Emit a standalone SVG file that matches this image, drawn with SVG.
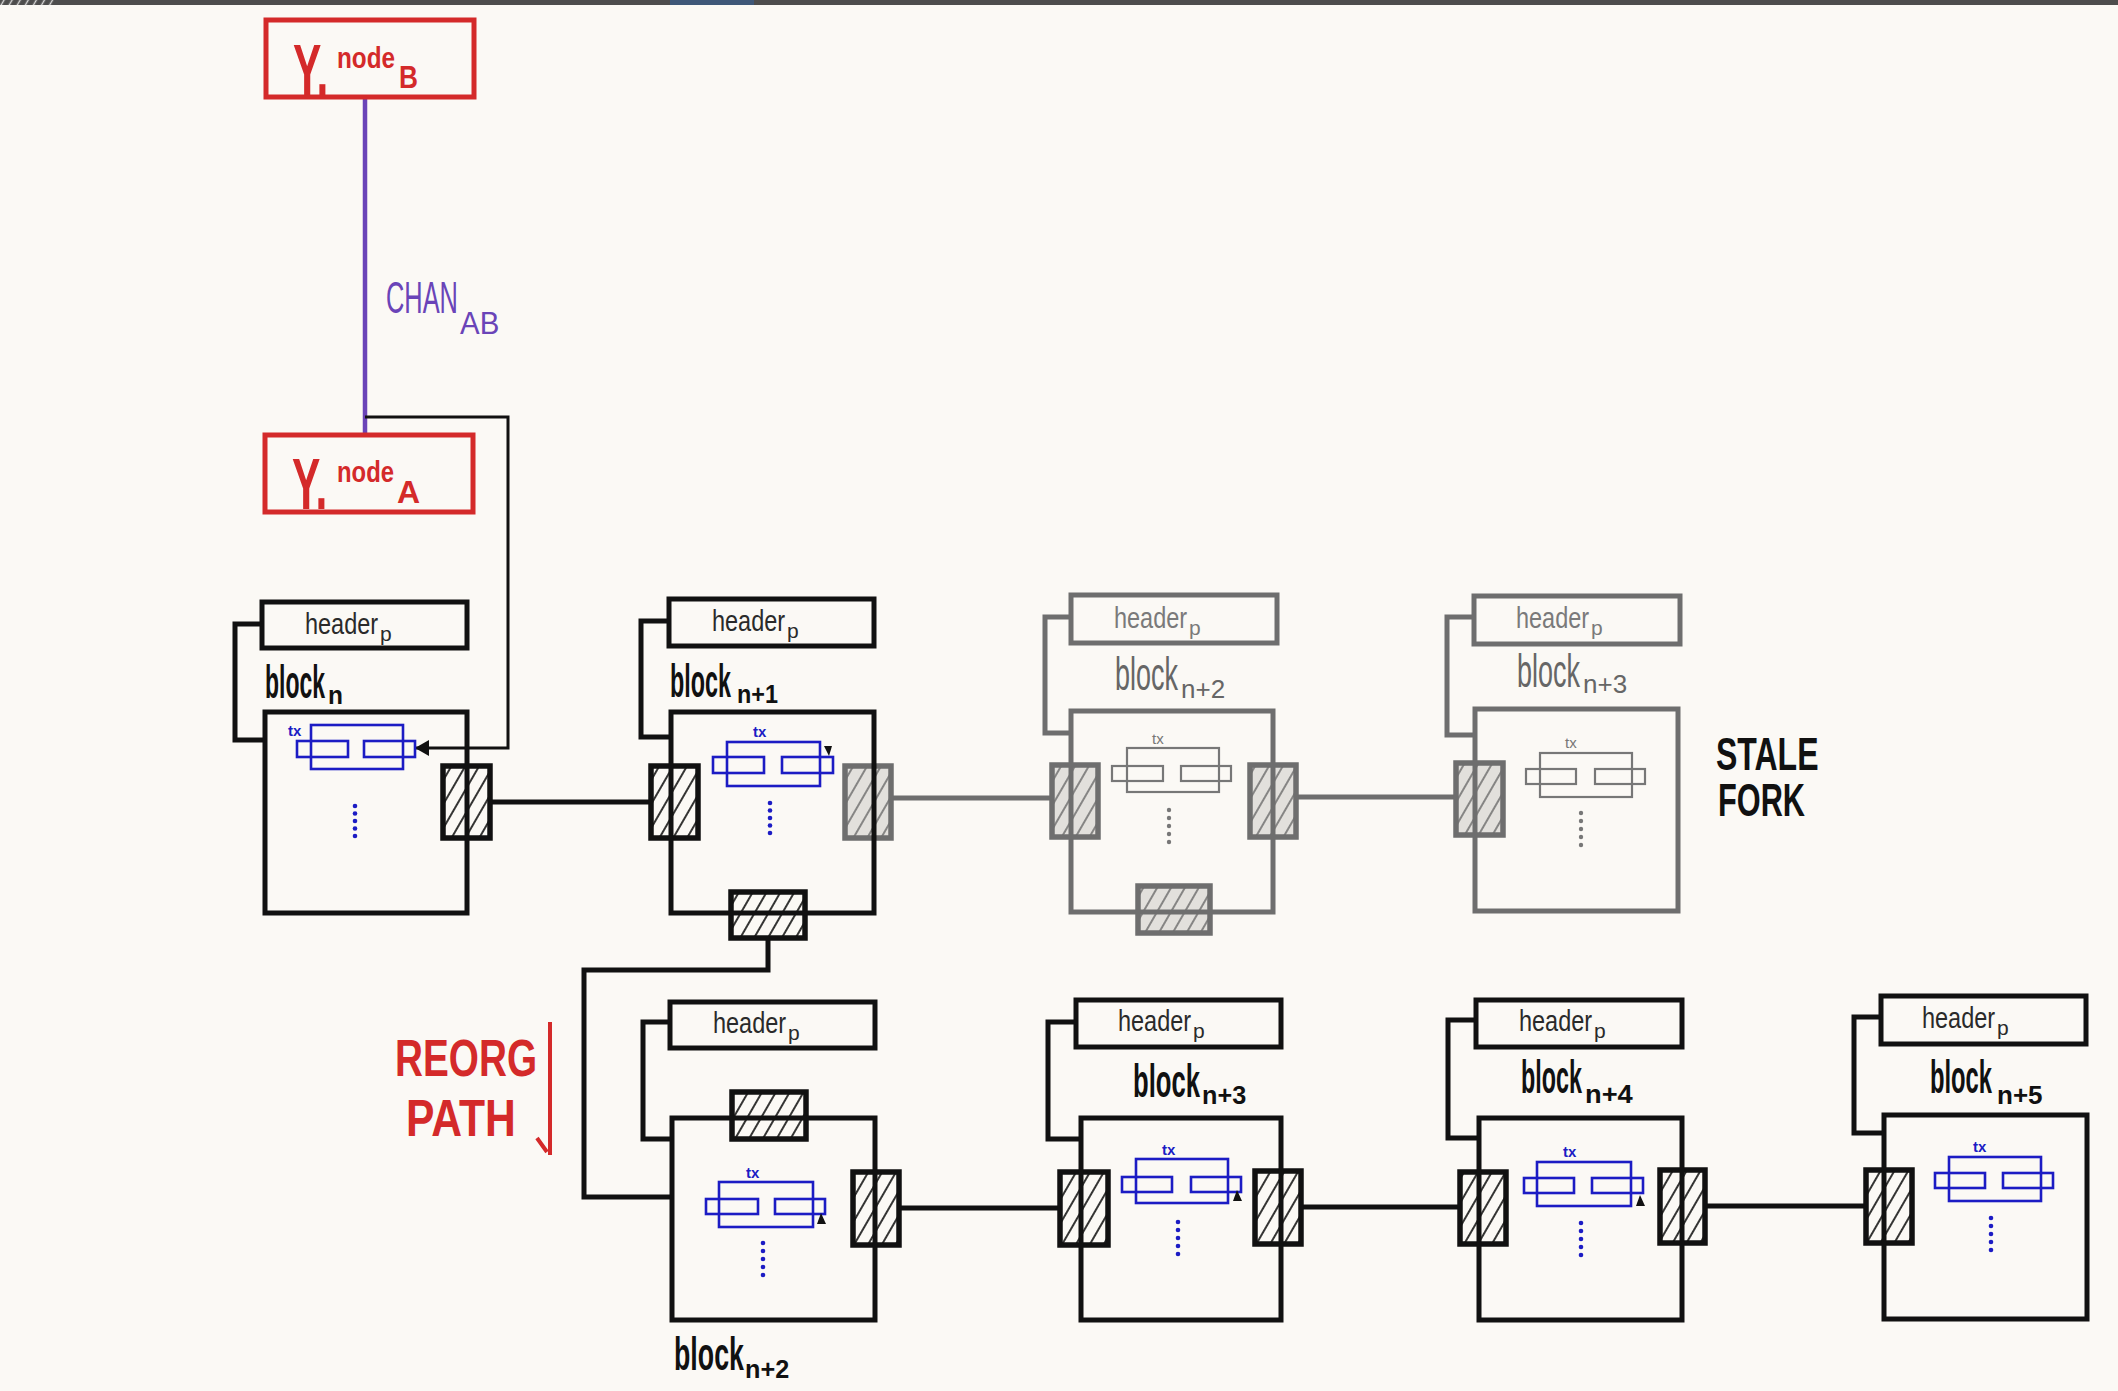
<svg xmlns="http://www.w3.org/2000/svg" width="2118" height="1391" viewBox="0 0 2118 1391">
  <defs>
    <style>
      .box { fill: none; stroke: #111; stroke-width: 5; stroke-linejoin: miter; }
      .grey .box { stroke: #6e6e6e; }
      .link { fill: none; stroke: #111; stroke-width: 5; }
      .grey .link { stroke: #6e6e6e; }
      .hash { fill: url(#hatch-k); stroke: #111; stroke-width: 5.5; }
      .hash-g { fill: url(#hatch-g); stroke: #6e6e6e; stroke-width: 5.5; }
      .tx { fill: none; stroke: #1c1cc4; stroke-width: 2.6; }
      .grey .tx { stroke: #777; stroke-width: 2.2; }
      .txl { font-family: "Liberation Sans", Arial, sans-serif; font-size: 15px; font-weight: bold; fill: #1c1cc4; }
      .grey .txl { fill: #777; font-weight: normal; }
      .dot { fill: #1c1cc4; }
      .grey .dot { fill: #777; }
      .hdr { font-family: "Liberation Sans", Arial, sans-serif; font-size: 29px; fill: #2a2a2a; }
      .hdr-p { font-family: "Liberation Sans", Arial, sans-serif; font-size: 21px; fill: #2a2a2a; }
      .grey .hdr, .grey .hdr-p { fill: #7a7a7a; }
      .lbl { font-family: "Liberation Sans", Arial, sans-serif; font-size: 46px; font-weight: bold; fill: #111; }
      .sub { font-family: "Liberation Sans", Arial, sans-serif; font-size: 26px; font-weight: bold; fill: #111; }
      .grey .lbl, .grey .sub { fill: #666; font-weight: normal; }
      .red { fill: none; stroke: #d42a2a; stroke-width: 5; }
      .redt { font-family: "Liberation Sans", Arial, sans-serif; font-weight: bold; fill: #d42a2a; }
      .chan { font-family: "Liberation Sans", Arial, sans-serif; fill: #6a44b8; }
      .note { font-family: "Liberation Sans", Arial, sans-serif; font-size: 46px; font-weight: bold; fill: #111; }
      .mark { fill: #111; }
    </style>
    <pattern id="hatch-k" width="12" height="12" patternUnits="userSpaceOnUse" patternTransform="rotate(30)">
      <rect width="12" height="12" fill="#fbf9f5"/>
      <line x1="6" y1="0" x2="6" y2="12" stroke="#111" stroke-width="1.7"/>
    </pattern>
    <pattern id="hatch-g" width="12" height="12" patternUnits="userSpaceOnUse" patternTransform="rotate(30)">
      <rect width="12" height="12" fill="#e2e0dc"/>
      <line x1="6" y1="0" x2="6" y2="12" stroke="#6e6e6e" stroke-width="1.6"/>
    </pattern>
    <pattern id="bar-hatch" width="7" height="7" patternUnits="userSpaceOnUse" patternTransform="rotate(30)">
      <rect width="7" height="7" fill="#4d4d4d"/>
      <line x1="3.5" y1="0" x2="3.5" y2="7" stroke="#d8d8d8" stroke-width="1.4"/>
    </pattern>
    <marker id="arrow" markerUnits="userSpaceOnUse" markerWidth="14" markerHeight="16" viewBox="0 0 14 16" refX="14" refY="8" orient="auto">
      <path d="M0,0 L14,8 L0,16 Z" fill="#111"/>
    </marker>
  </defs>

  <!-- canvas -->
  <rect width="2118" height="1391" fill="#fbf9f5"/>
  <rect width="2118" height="5" fill="#4d4d4d"/>
  <rect x="0" y="0" width="54" height="5" fill="url(#bar-hatch)"/>
  <rect x="670" y="0" width="84" height="5" fill="#3f5878"/>

  <!-- connectors -->
  <g id="connectors">
    <path d="M365,97 V435" fill="none" stroke="#6a44b8" stroke-width="4.5"/>
    <path d="M365,417 H508 V748 H415" fill="none" stroke="#111" stroke-width="3" marker-end="url(#arrow)"/>
    <path class="link" d="M490,802 H651"/>
    <path d="M891,798 H1052" fill="none" stroke="#6e6e6e" stroke-width="5"/>
    <path d="M1296,797 H1456" fill="none" stroke="#6e6e6e" stroke-width="5"/>
    <path class="link" d="M768,938 V970 H584 V1197 H672"/>
    <path class="link" d="M899,1208 H1060"/>
    <path class="link" d="M1301,1207 H1460"/>
    <path class="link" d="M1705,1206 H1866"/>
    <text class="chan" font-size="44" transform="translate(386,313) scale(0.577,1)">CHAN</text>
    <text class="chan" font-size="31" transform="translate(460,334) scale(0.95,1)">AB</text>
  </g>

  <!-- payment-channel nodes -->
  <g id="node-b">
    <rect class="red" x="266" y="20" width="208" height="77"/>
    <text class="redt" font-size="72" transform="translate(293,95) scale(0.59,1)">Y.</text>
    <text class="redt" font-size="30" transform="translate(337,68) scale(0.81,1)">node</text>
    <text class="redt" font-size="32" transform="translate(399,88) scale(0.82,1)">B</text>
  </g>
  <g id="node-a">
    <rect class="red" x="265" y="435" width="208" height="77"/>
    <text class="redt" font-size="72" transform="translate(292,509) scale(0.59,1)">Y.</text>
    <text class="redt" font-size="30" transform="translate(337,482) scale(0.795,1)">node</text>
    <text class="redt" font-size="32" transform="translate(397,503)">A</text>
  </g>

  <!-- block n -->
  <g id="block-n">
    <rect class="hash" x="443" y="766" width="47" height="72"/>
    <rect class="box" x="262" y="602" width="205" height="46"/>
    <path class="link" d="M262,624 H235 V740 H265"/>
    <rect class="box" x="265" y="712" width="202" height="201"/>
    <text class="hdr" transform="translate(305,634) scale(0.81,1)">header</text>
    <text class="hdr-p" x="380" y="641">p</text>
    <text class="lbl" transform="translate(265,698) scale(0.5,1)">block</text>
    <text class="sub" transform="translate(328,704) scale(0.94,1)">n</text>
    <text class="txl" x="288" y="736">tx</text>
    <rect class="tx" x="311" y="725" width="92" height="44"/>
    <rect class="tx" x="297" y="741" width="51" height="16"/>
    <rect class="tx" x="364" y="741" width="51" height="16"/>
    <g class="dot"><circle cx="355" cy="806" r="2.3"/><circle cx="355" cy="813.5" r="2.3"/><circle cx="355" cy="821" r="2.3"/><circle cx="355" cy="828.5" r="2.3"/><circle cx="355" cy="836" r="2.3"/></g>
  </g>

  <!-- block n+1 -->
  <g id="block-n1">
    <rect class="hash" x="651" y="766" width="47" height="72"/>
    <rect class="hash-g" x="845" y="766" width="46" height="72"/>
    <rect class="hash" x="731" y="892" width="74" height="46"/>
    <rect class="box" x="669" y="599" width="205" height="47"/>
    <path class="link" d="M669,621 H641 V737 H671"/>
    <rect class="box" x="671" y="712" width="203" height="201"/>
    <text class="hdr" transform="translate(712,631) scale(0.81,1)">header</text>
    <text class="hdr-p" x="787" y="638">p</text>
    <text class="lbl" transform="translate(670,697) scale(0.507,1)">block</text>
    <text class="sub" transform="translate(737,703) scale(0.9,1)">n+1</text>
    <text class="txl" x="753" y="737">tx</text>
    <rect class="tx" x="727" y="742" width="93" height="44"/>
    <rect class="tx" x="713" y="757" width="51" height="16"/>
    <rect class="tx" x="782" y="757" width="51" height="16"/>
    <polygon class="mark" points="824,746 832,746 829,756"/>
    <g class="dot"><circle cx="770" cy="803" r="2.3"/><circle cx="770" cy="810.5" r="2.3"/><circle cx="770" cy="818" r="2.3"/><circle cx="770" cy="825.5" r="2.3"/><circle cx="770" cy="833" r="2.3"/></g>
  </g>

  <!-- block n+2 on the stale fork -->
  <g id="block-n2-stale" class="grey">
    <rect class="hash-g" x="1052" y="765" width="46" height="72"/>
    <rect class="hash-g" x="1250" y="765" width="46" height="72"/>
    <rect class="hash-g" x="1138" y="886" width="72" height="47"/>
    <rect class="box" x="1071" y="595" width="206" height="48"/>
    <path class="link" d="M1071,617 H1045 V733 H1071"/>
    <rect class="box" x="1071" y="711" width="202" height="201"/>
    <text class="hdr" transform="translate(1114,628) scale(0.81,1)">header</text>
    <text class="hdr-p" x="1189" y="635">p</text>
    <text class="lbl" transform="translate(1115,690) scale(0.587,1)">block</text>
    <text class="sub" font-size="30" transform="translate(1181,698)">n+2</text>
    <text class="txl" x="1152" y="744">tx</text>
    <rect class="tx" x="1127" y="748" width="92" height="44"/>
    <rect class="tx" x="1112" y="766" width="51" height="15"/>
    <rect class="tx" x="1181" y="766" width="50" height="15"/>
    <g class="dot"><circle cx="1169" cy="810" r="2.2"/><circle cx="1169" cy="818" r="2.2"/><circle cx="1169" cy="826" r="2.2"/><circle cx="1169" cy="834" r="2.2"/><circle cx="1169" cy="842" r="2.2"/></g>
  </g>

  <!-- block n+3 on the stale fork -->
  <g id="block-n3-stale" class="grey">
    <rect class="hash-g" x="1456" y="763" width="47" height="72"/>
    <rect class="box" x="1474" y="596" width="206" height="48"/>
    <path class="link" d="M1474,617 H1447 V735 H1475"/>
    <rect class="box" x="1475" y="709" width="203" height="202"/>
    <text class="hdr" transform="translate(1516,628) scale(0.81,1)">header</text>
    <text class="hdr-p" x="1591" y="635">p</text>
    <text class="lbl" transform="translate(1517,687) scale(0.587,1)">block</text>
    <text class="sub" font-size="28" transform="translate(1583,693)">n+3</text>
    <text class="txl" x="1565" y="748">tx</text>
    <rect class="tx" x="1540" y="753" width="92" height="44"/>
    <rect class="tx" x="1526" y="769" width="50" height="15"/>
    <rect class="tx" x="1595" y="769" width="50" height="15"/>
    <g class="dot"><circle cx="1581" cy="813" r="2.2"/><circle cx="1581" cy="821" r="2.2"/><circle cx="1581" cy="829" r="2.2"/><circle cx="1581" cy="837" r="2.2"/><circle cx="1581" cy="845" r="2.2"/></g>
  </g>

  <g id="label-stale-fork">
    <text class="note" transform="translate(1716,770) scale(0.696,1)">STALE</text>
    <text class="note" transform="translate(1718,816) scale(0.668,1)">FORK</text>
  </g>

  <g id="label-reorg-path">
    <text class="redt" font-size="52" transform="translate(395,1076) scale(0.745,1)">REORG</text>
    <text class="redt" font-size="52" transform="translate(406,1136) scale(0.82,1)">PATH</text>
    <path d="M550,1022 V1155 M537,1138 L547,1152" fill="none" stroke="#d42a2a" stroke-width="4"/>
  </g>

  <!-- block n+2 on the new chain -->
  <g id="block-n2">
    <rect class="hash" x="732" y="1092" width="74" height="47"/>
    <rect class="hash" x="853" y="1172" width="46" height="73"/>
    <rect class="box" x="670" y="1002" width="205" height="46"/>
    <path class="link" d="M670,1022 H643 V1139 H672"/>
    <rect class="box" x="672" y="1118" width="203" height="202"/>
    <text class="hdr" transform="translate(713,1033) scale(0.81,1)">header</text>
    <text class="hdr-p" x="788" y="1040">p</text>
    <text class="lbl" transform="translate(674,1370) scale(0.582,1)">block</text>
    <text class="sub" transform="translate(745,1378) scale(0.97,1)">n+2</text>
    <text class="txl" x="746" y="1178">tx</text>
    <rect class="tx" x="719" y="1182" width="94" height="45"/>
    <rect class="tx" x="706" y="1199" width="52" height="15"/>
    <rect class="tx" x="775" y="1199" width="50" height="15"/>
    <polygon class="mark" points="817,1224 826,1224 821,1213"/>
    <g class="dot"><circle cx="763" cy="1243" r="2.3"/><circle cx="763" cy="1251" r="2.3"/><circle cx="763" cy="1259" r="2.3"/><circle cx="763" cy="1267" r="2.3"/><circle cx="763" cy="1275" r="2.3"/></g>
  </g>

  <!-- block n+3 on the new chain -->
  <g id="block-n3">
    <rect class="hash" x="1060" y="1172" width="48" height="73"/>
    <rect class="hash" x="1255" y="1171" width="46" height="73"/>
    <rect class="box" x="1076" y="1000" width="205" height="47"/>
    <path class="link" d="M1076,1022 H1048 V1139 H1081"/>
    <rect class="box" x="1081" y="1118" width="200" height="202"/>
    <text class="hdr" transform="translate(1118,1031) scale(0.81,1)">header</text>
    <text class="hdr-p" x="1193" y="1038">p</text>
    <text class="lbl" transform="translate(1133,1097) scale(0.557,1)">block</text>
    <text class="sub" transform="translate(1202,1104) scale(0.97,1)">n+3</text>
    <text class="txl" x="1162" y="1155">tx</text>
    <rect class="tx" x="1136" y="1159" width="92" height="44"/>
    <rect class="tx" x="1122" y="1177" width="50" height="15"/>
    <rect class="tx" x="1191" y="1177" width="50" height="15"/>
    <polygon class="mark" points="1233,1201 1242,1201 1237,1190"/>
    <g class="dot"><circle cx="1178" cy="1222" r="2.3"/><circle cx="1178" cy="1230" r="2.3"/><circle cx="1178" cy="1238" r="2.3"/><circle cx="1178" cy="1246" r="2.3"/><circle cx="1178" cy="1254" r="2.3"/></g>
  </g>

  <!-- block n+4 -->
  <g id="block-n4">
    <rect class="hash" x="1460" y="1172" width="46" height="72"/>
    <rect class="hash" x="1660" y="1170" width="45" height="73"/>
    <rect class="box" x="1476" y="1000" width="206" height="47"/>
    <path class="link" d="M1476,1020 H1448 V1138 H1479"/>
    <rect class="box" x="1479" y="1118" width="203" height="202"/>
    <text class="hdr" transform="translate(1519,1031) scale(0.81,1)">header</text>
    <text class="hdr-p" x="1594" y="1038">p</text>
    <text class="lbl" transform="translate(1521,1093) scale(0.507,1)">block</text>
    <text class="sub" font-size="28" transform="translate(1585,1103) scale(1.05,1)">n+4</text>
    <text class="txl" x="1563" y="1157">tx</text>
    <rect class="tx" x="1537" y="1162" width="94" height="44"/>
    <rect class="tx" x="1524" y="1178" width="50" height="15"/>
    <rect class="tx" x="1592" y="1178" width="51" height="15"/>
    <polygon class="mark" points="1636,1206 1645,1206 1640,1195"/>
    <g class="dot"><circle cx="1581" cy="1223" r="2.3"/><circle cx="1581" cy="1231" r="2.3"/><circle cx="1581" cy="1239" r="2.3"/><circle cx="1581" cy="1247" r="2.3"/><circle cx="1581" cy="1255" r="2.3"/></g>
  </g>

  <!-- block n+5 -->
  <g id="block-n5">
    <rect class="hash" x="1866" y="1170" width="46" height="73"/>
    <rect class="box" x="1881" y="996" width="205" height="48"/>
    <path class="link" d="M1881,1017 H1854 V1133 H1884"/>
    <rect class="box" x="1884" y="1115" width="203" height="204"/>
    <text class="hdr" transform="translate(1922,1028) scale(0.81,1)">header</text>
    <text class="hdr-p" x="1997" y="1035">p</text>
    <text class="lbl" transform="translate(1930,1093) scale(0.516,1)">block</text>
    <text class="sub" transform="translate(1997,1104)">n+5</text>
    <text class="txl" x="1973" y="1152">tx</text>
    <rect class="tx" x="1949" y="1157" width="92" height="44"/>
    <rect class="tx" x="1935" y="1173" width="50" height="15"/>
    <rect class="tx" x="2003" y="1173" width="50" height="15"/>
    <g class="dot"><circle cx="1991" cy="1218" r="2.3"/><circle cx="1991" cy="1226" r="2.3"/><circle cx="1991" cy="1234" r="2.3"/><circle cx="1991" cy="1242" r="2.3"/><circle cx="1991" cy="1250" r="2.3"/></g>
  </g>
</svg>
